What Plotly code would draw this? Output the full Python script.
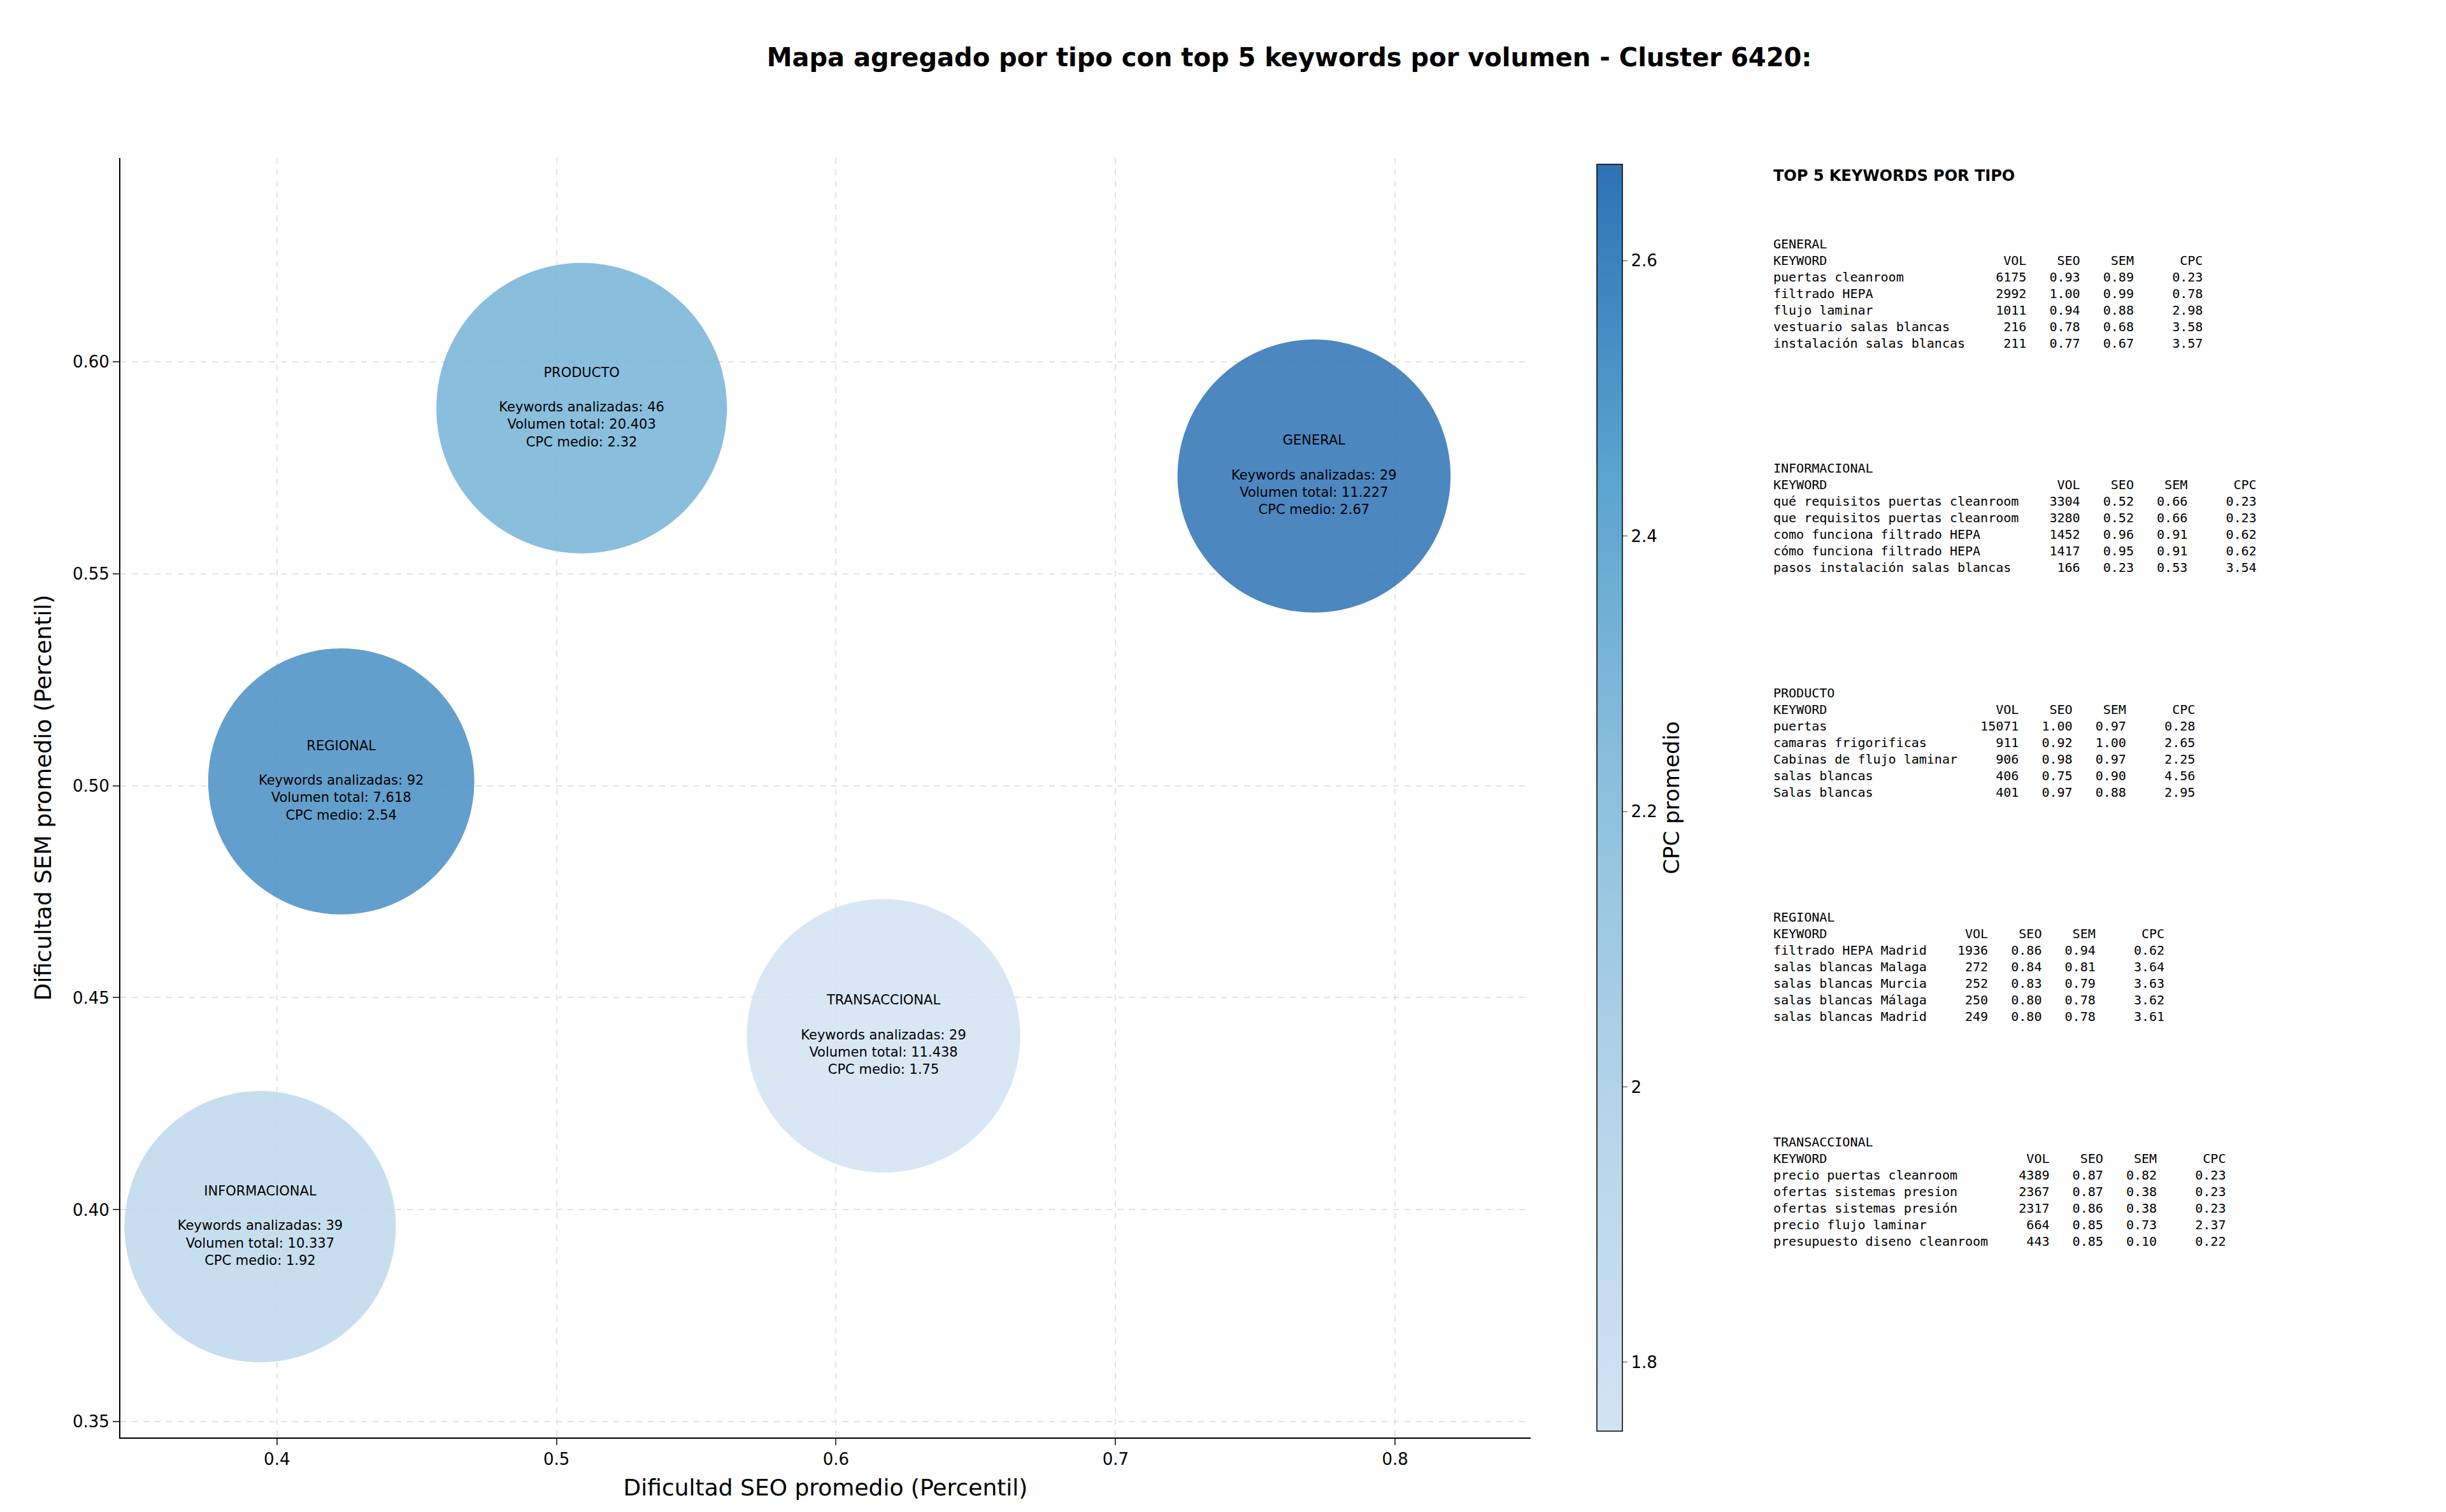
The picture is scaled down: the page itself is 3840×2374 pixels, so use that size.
import plotly.graph_objects as go

# Aggregated data per type
tipos = ["PRODUCTO", "GENERAL", "REGIONAL", "TRANSACCIONAL", "INFORMACIONAL"]
seo_medio = [0.509, 0.771, 0.423, 0.617, 0.394]
sem_medio = [0.589, 0.573, 0.501, 0.441, 0.396]
n_keywords = [46, 29, 92, 29, 39]
volumen_total = [20403, 11227, 7618, 11438, 10337]
cpc_medio = [2.32, 2.67, 2.54, 1.75, 1.92]

# Top 5 keywords per type: (keyword, vol, seo, sem, cpc)
top_general = [
    ("puertas cleanroom", 6175, 0.93, 0.89, 0.23),
    ("filtrado HEPA", 2992, 1.00, 0.99, 0.78),
    ("flujo laminar", 1011, 0.94, 0.88, 2.98),
    ("vestuario salas blancas", 216, 0.78, 0.68, 3.58),
    ("instalación salas blancas", 211, 0.77, 0.67, 3.57),
]
top_informacional = [
    ("qué requisitos puertas cleanroom", 3304, 0.52, 0.66, 0.23),
    ("que requisitos puertas cleanroom", 3280, 0.52, 0.66, 0.23),
    ("como funciona filtrado HEPA", 1452, 0.96, 0.91, 0.62),
    ("cómo funciona filtrado HEPA", 1417, 0.95, 0.91, 0.62),
    ("pasos instalación salas blancas", 166, 0.23, 0.53, 3.54),
]
top_producto = [
    ("puertas", 15071, 1.00, 0.97, 0.28),
    ("camaras frigorificas", 911, 0.92, 1.00, 2.65),
    ("Cabinas de flujo laminar", 906, 0.98, 0.97, 2.25),
    ("salas blancas", 406, 0.75, 0.90, 4.56),
    ("Salas blancas", 401, 0.97, 0.88, 2.95),
]
top_regional = [
    ("filtrado HEPA Madrid", 1936, 0.86, 0.94, 0.62),
    ("salas blancas Malaga", 272, 0.84, 0.81, 3.64),
    ("salas blancas Murcia", 252, 0.83, 0.79, 3.63),
    ("salas blancas Málaga", 250, 0.80, 0.78, 3.62),
    ("salas blancas Madrid", 249, 0.80, 0.78, 3.61),
]
top_transaccional = [
    ("precio puertas cleanroom", 4389, 0.87, 0.82, 0.23),
    ("ofertas sistemas presion", 2367, 0.87, 0.38, 0.23),
    ("ofertas sistemas presión", 2317, 0.86, 0.38, 0.23),
    ("precio flujo laminar", 664, 0.85, 0.73, 2.37),
    ("presupuesto diseno cleanroom", 443, 0.85, 0.10, 0.22),
]
secciones = [
    ("GENERAL", top_general),
    ("INFORMACIONAL", top_informacional),
    ("PRODUCTO", top_producto),
    ("REGIONAL", top_regional),
    ("TRANSACCIONAL", top_transaccional),
]

blues = [[0, "#d2e3f3"], [0.25, "#b5d4e9"], [0.5, "#8dc1dd"], [0.75, "#5ca4d0"], [1, "#2d72b5"]]


def fmt_vol(v):
    return f"{v:,}".replace(",", ".")


labels = [
    f"{t}<br><br>Keywords analizadas: {n}<br>Volumen total: {fmt_vol(v)}<br>CPC medio: {c:.2f}"
    for t, n, v, c in zip(tipos, n_keywords, volumen_total, cpc_medio)
]
sizes = [395 + 0.003 * v for v in volumen_total]

fig = go.Figure(
    go.Scatter(
        x=seo_medio,
        y=sem_medio,
        mode="markers+text",
        text=labels,
        textposition="middle center",
        textfont=dict(size=21, color="black"),
        marker=dict(
            size=sizes,
            color=cpc_medio,
            colorscale=blues,
            cmin=min(cpc_medio),
            cmax=max(cpc_medio),
            opacity=0.85,
            line=dict(width=0),
            colorbar=dict(
                x=1.0425, xanchor="left", y=0.5, yanchor="middle", len=1,
                thickness=40, outlinewidth=1.5, outlinecolor="black",
                tickvals=[1.8, 2.0, 2.2, 2.4, 2.6], ticks="outside", ticklen=8,
                tickfont=dict(size=26),
                title=dict(text="CPC promedio", side="right", font=dict(size=34)),
            ),
        ),
        showlegend=False,
        hoverinfo="skip",
    )
)


def tabla(nombre, filas):
    w = max(len(f[0]) for f in filas)
    lines = [nombre, f"{'KEYWORD':<{w}}{'VOL':>8}{'SEO':>7}{'SEM':>7}{'CPC':>9}"]
    for kw, v, s, m, c in filas:
        lines.append(f"{kw:<{w}}{v:>8}{s:>7.2f}{m:>7.2f}{c:>9.2f}")
    return "<br>".join(l.replace(" ", "\u00a0") for l in lines)


annotations = [
    dict(text="<b>TOP 5 KEYWORDS POR TIPO</b>", xref="paper", yref="paper",
         x=1.171, y=0.994, xanchor="left", yanchor="top", showarrow=False,
         align="left", font=dict(family="DejaVu Sans", size=24))
]
for i, (nombre, filas) in enumerate(secciones):
    annotations.append(dict(
        text=tabla(nombre, filas), xref="paper", yref="paper",
        x=1.171, y=0.94 - i * 0.1755, xanchor="left", yanchor="top",
        showarrow=False, align="left",
        font=dict(family="DejaVu Sans Mono", size=20, color="black"),
    ))

fig.update_layout(
    width=3840, height=2374,
    paper_bgcolor="white", plot_bgcolor="white",
    font=dict(family="DejaVu Sans", color="black"),
    margin=dict(l=181, r=1445, t=240, b=125),
    title=dict(
        text="<b>Mapa agregado por tipo con top 5 keywords por volumen - Cluster 6420:</b>",
        x=0.525, xref="container", xanchor="center",
        y=1 - 82 / 2374, yanchor="middle", font=dict(size=40),
    ),
    annotations=annotations,
)
axis_style = dict(
    showline=True, linecolor="black", linewidth=2, mirror=False,
    ticks="outside", ticklen=10, tickwidth=2, tickfont=dict(size=26),
    showgrid=True, gridcolor="#e3e3e3", griddash="dash", gridwidth=1.5,
    zeroline=False,
)
fig.update_xaxes(range=[0.344, 0.8485], tickvals=[0.4, 0.5, 0.6, 0.7, 0.8],
                 title=dict(text="Dificultad SEO promedio (Percentil)", font=dict(size=36), standoff=18),
                 **axis_style)
fig.update_yaxes(range=[0.3463, 0.648], tickvals=[0.35, 0.4, 0.45, 0.5, 0.55, 0.6],
                 tickformat=".2f",
                 title=dict(text="Dificultad SEM promedio (Percentil)", font=dict(size=36), standoff=22),
                 **axis_style)

fig.write_html("out.html")
